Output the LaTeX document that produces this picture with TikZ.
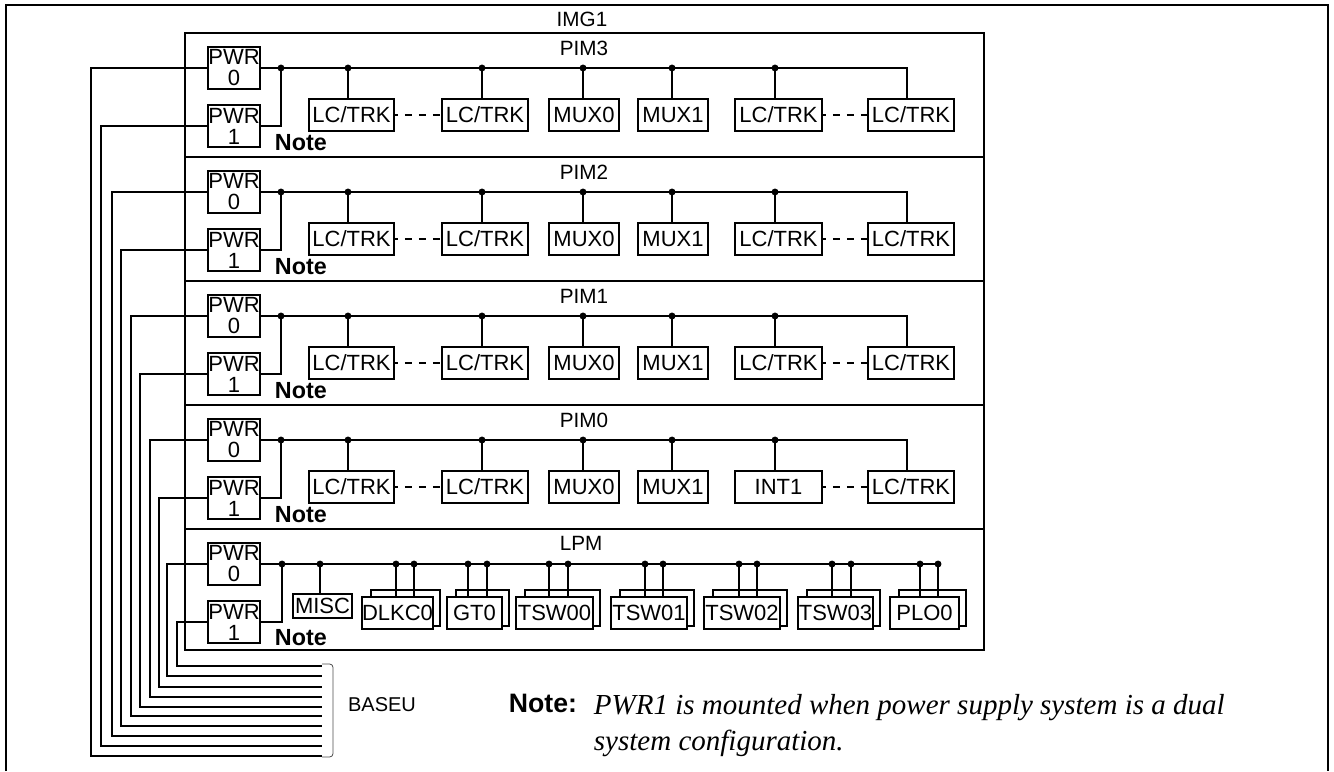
\documentclass[tikz,border=0pt]{standalone}
\usepackage{fontspec}
\setmainfont{Liberation Sans}
\newfontfamily\noteserif{Liberation Serif}
\newcommand\lblfont{\fontsize{15.5}{15.75}\selectfont}
\newcommand\boxfont{\fontsize{16.5}{15.75}\selectfont}
\tikzset{
  sect/.style={draw, inner sep=0pt, minimum width=799*0.75pt, minimum height=124*0.75pt},
  lbl/.style={inner sep=0pt, font=\lblfont},
  pwr/.style={draw, fill=white, inner sep=0pt, minimum width=39pt, minimum height=31.5pt, align=center, font=\boxfont},
  box/.style args={#1/#2}{draw, fill=white, inner sep=0pt, minimum width=#1*0.75pt, minimum height=#2*0.75pt, font=\boxfont},
  notelbl/.style={inner sep=0pt, anchor=base west, font=\fontsize{17.5}{17.5}\selectfont\bfseries},
  dotsline/.style={dash pattern=on 5.5pt off 5pt, dash phase=3pt},
  bracket/.style={line width=0.6pt, draw=black!70, rounded corners=2.5pt},
  jdot/.style={fill=black}
}
\begin{document}
\begin{tikzpicture}[x=0.75pt,y=-0.75pt, line width=1.4pt]
\useasboundingbox (0,0) rectangle (1334,771);
% outer frame
\draw (6,771) -- (6,5) -- (1328,5) -- (1328,771);
\node[lbl] (img1) at (582,19) {IMG1};

\foreach \T/\nm/\id/\xa/\xb/\ya/\yb in {33/PIM3/3/91/101/756/746, 157/PIM2/2/112/121/736/726, 281/PIM1/1/131/140/716/707, 405/PIM0/0/150/159/697/687}{
  \node[sect] (sec\id) at (584.5,\T+62) {};
  \node[lbl] (lab\id) at (584,\T+15) {\nm};
  \node[pwr] (pa\id) at (234,\T+35) {PWR\\0};
  \node[pwr] (pb\id) at (234,\T+93) {PWR\\1};
  \node[notelbl] (nt\id) at (274,\T+117) {Note};
  \node[box=85/32] (ca\id) at (351.5,\T+82) {LC/TRK};
  \node[box=86/32] (cb\id) at (485,\T+82) {LC/TRK};
  \node[box=70/32] (ma\id) at (584,\T+82) {MUX0};
  \node[box=70/32] (mb\id) at (673,\T+82) {MUX1};
  \node[box=87/32] (cc\id) at (778.5,\T+82) {\ifnum\id=0 INT1\else LC/TRK\fi};
  \node[box=86/32] (cd\id) at (911,\T+82) {LC/TRK};
  \coordinate (j\id) at (281,\T+35);
  \coordinate (e\id) at (907,\T+35);
  \draw (pa\id.east) -- (e\id) -- (e\id |- cd\id.north);
  \draw (j\id) -- (j\id |- pb\id.east) -- (pb\id.east);
  \fill[jdot] (j\id) circle[radius=2.6pt];
  \foreach \dx/\bx in {348/ca, 482/cb, 583/ma, 672/mb, 775/cc}{
    \coordinate (k\bx\id) at (\dx,\T+35);
    \draw (k\bx\id) -- (k\bx\id |- \bx\id.north);
    \fill[jdot] (k\bx\id) circle[radius=2.6pt];
  }
  \draw[dotsline] (ca\id.east) -- (cb\id.west);
  \draw[dotsline] (cc\id.east) -- (cd\id.west);
  \coordinate (ba\id) at (322,\ya);
  \coordinate (bb\id) at (322,\yb);
  \draw (pa\id.west) -- (\xa,\T+35) -- (\xa,\ya) -- (ba\id);
  \draw (pb\id.west) -- (\xb,\T+93) -- (\xb,\yb) -- (bb\id);
}

% LPM section
\node[sect, minimum height=121*0.75pt] (secL) at (584.5,589.5) {};
\node[lbl] (labL) at (581,543) {LPM};
\node[pwr] (paL) at (234,564) {PWR\\0};
\node[pwr] (pbL) at (234,622) {PWR\\1};
\node[notelbl] (ntL) at (274,645) {Note};
\coordinate (jL) at (282,564);
\coordinate (eL) at (938,564);
\draw (paL.east) -- (eL);
\draw (jL) -- (jL |- pbL.east) -- (pbL.east);
\fill[jdot] (jL) circle[radius=2.6pt];
\node[box=59/24] (misc) at (322.5,606) {MISC};
\coordinate (km) at (320,564);
\draw (km) -- (km |- misc.north);
\fill[jdot] (km) circle[radius=2.6pt];
\foreach \nm/\fl/\fr/\da/\db/\k in {DLKC0/362/433/396/414/1, GT0/447/502/468/487/2, TSW00/516/593/549/568/3, TSW01/611/687/645/663/4, TSW02/704/780/739/757/5, TSW03/798/873/832/851/6, PLO0/890/959/920/938/7}{
  \pgfmathsetmacro\bw{\fr-\fl-2}
  \pgfmathsetmacro\bc{(\fl+\fr)/2+8}
  \pgfmathsetmacro\fw{\fr-\fl}
  \pgfmathsetmacro\fc{(\fl+\fr)/2}
  \node[box=\bw/36] (bk\k) at (\bc,608) {};
  \node[box=\fw/32] (fr\k) at (\fc,613) {\nm};
  \coordinate (sa\k) at (\da,564);
  \coordinate (sb\k) at (\db,564);
  \draw (sa\k) -- (sa\k |- fr\k.north);
  \draw (sb\k) -- (sb\k |- fr\k.north);
  \fill[jdot] (sa\k) circle[radius=2.6pt];
  \fill[jdot] (sb\k) circle[radius=2.6pt];
}
\coordinate (baL) at (322,676);
\coordinate (bbL) at (322,666);
\draw (paL.west) -- (167,564) -- (167,676) -- (baL);
\draw (pbL.west) -- (177,622) -- (177,666) -- (bbL);

% BASEU bracket
\draw[bracket] (322,664) -- (333,664) -- (333,757) -- (322,757);
\node[lbl, font=\fontsize{15}{15}\selectfont] (baseu) at (382,705) {BASEU};

% note
\node[inner sep=0pt, anchor=base west, font=\fontsize{20}{20}\selectfont\bfseries] (notehd) at (508,712) {Note:};
\node[inner sep=0pt, anchor=base west, font=\fontsize{21.75}{21.75}\selectfont\noteserif\itshape] (note1) at (593,714) {PWR1 is mounted when power supply system is a dual};
\node[inner sep=0pt, anchor=base west, font=\fontsize{21.75}{21.75}\selectfont\noteserif\itshape] (note2) at (593,750) {system configuration.};
\end{tikzpicture}
\end{document}
